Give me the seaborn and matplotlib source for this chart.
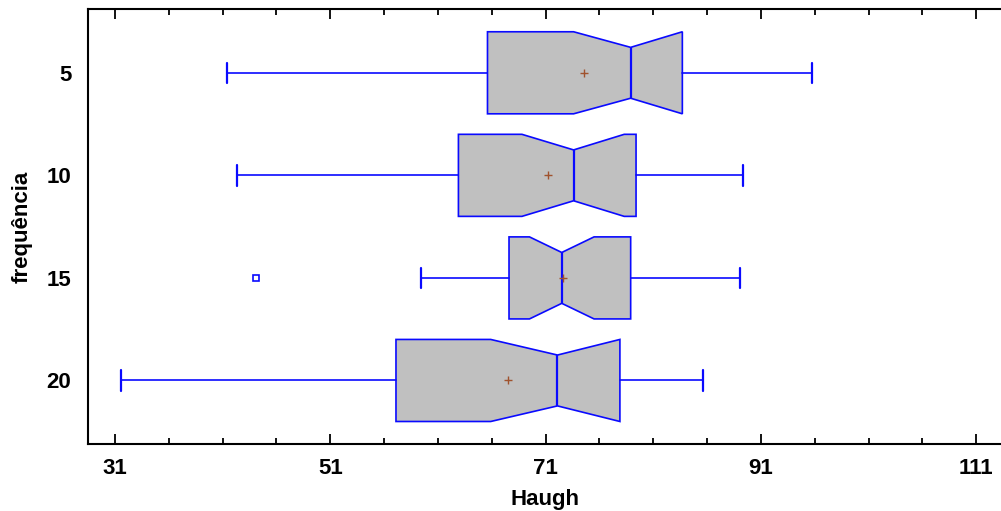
import numpy as np
import seaborn as sns
import matplotlib
matplotlib.use("Agg")
import matplotlib.pyplot as plt
from matplotlib.ticker import MultipleLocator

# values (Haugh units)
categorias = ["5", "10", "15", "20"]
whisk_lo = [41.4, 42.3, 59.4, 31.6]
q1 = [65.6, 62.9, 67.6, 57.1]
notch_lo = [73.6, 68.8, 69.5, 65.9]
mediana = [78.9, 73.6, 72.5, 72.1]
notch_hi = [83.7, 78.3, 75.5, 77.9]
q3 = [83.7, 79.4, 78.9, 77.9]
whisk_hi = [95.7, 89.3, 89.1, 85.6]
media = [74.6, 71.2, 72.6, 67.5]
outliers = [[], [], [44.1], []]

sns.set_theme(style="ticks")
plt.rcParams["font.family"] = ["Liberation Sans", "DejaVu Sans"]
plt.rcParams["font.weight"] = "bold"
plt.rcParams["text.color"] = "black"
plt.rcParams["axes.labelcolor"] = "black"
plt.rcParams["xtick.color"] = "black"
plt.rcParams["ytick.color"] = "black"

azul = "#0a0aff"
cinza = "#c0c0c0"
largura = 0.8
notch_frac = 0.31  # half-height of the notch waist, relative to box width

fig = plt.figure(figsize=(10.01, 5.11), dpi=100)
ax = fig.add_axes([0.088, 0.131, 0.912, 0.851])

stats = []
for i in range(len(categorias)):
    stats.append(dict(whislo=whisk_lo[i], q1=q1[i], med=mediana[i], q3=q3[i],
                      whishi=whisk_hi[i], cilo=notch_lo[i], cihi=notch_hi[i],
                      mean=media[i], fliers=outliers[i], label=categorias[i]))

pos = np.arange(len(categorias))
res = ax.bxp(stats, positions=pos, widths=largura, orientation="horizontal",
             shownotches=True, showmeans=True, patch_artist=True,
             capwidths=0.2,
             boxprops=dict(facecolor=cinza, edgecolor=azul, linewidth=1.2),
             whiskerprops=dict(color=azul, linewidth=1.2),
             capprops=dict(color=azul, linewidth=1.6),
             medianprops=dict(color=azul, linewidth=1.6),
             meanprops=dict(marker="+", markeredgecolor="#a0522d", markersize=6,
                            markeredgewidth=1.0),
             flierprops=dict(marker="s", markerfacecolor="none",
                             markeredgecolor=azul, markersize=5,
                             markeredgewidth=1.2))

# widen the notch waist (Statgraphics style) and the median segment with it
for i, (caixa, med) in enumerate(zip(res["boxes"], res["medians"])):
    path = caixa.get_path()
    v = path.vertices
    p = pos[i]
    waist = np.isclose(np.abs(v[:, 1] - p), largura * 0.25)
    v[waist, 1] = p + np.sign(v[waist, 1] - p) * largura * notch_frac
    med.set_ydata([p - largura * notch_frac, p + largura * notch_frac])

ax.set_xlim(28.5, 113.3)
ax.set_ylim(3.62, -0.62)
ax.set_yticks(pos)
ax.set_yticklabels(categorias)
ax.xaxis.set_major_locator(MultipleLocator(20, offset=11))
ax.xaxis.set_minor_locator(MultipleLocator(5, offset=1))

ax.tick_params(axis="x", which="both", direction="in", top=True, bottom=True,
               width=1.3, labelsize=16, pad=10, colors="black")
ax.tick_params(axis="x", which="major", length=7)
ax.tick_params(axis="x", which="minor", length=4)
ax.tick_params(axis="y", length=0, labelsize=16, pad=12, colors="black")
for t in ax.get_xticklabels() + ax.get_yticklabels():
    t.set_fontweight("bold")

ax.set_xlabel("Haugh", fontsize=16, fontweight="bold", labelpad=7)
ax.set_ylabel("frequência", fontsize=16, fontweight="bold", labelpad=10)

for s in ["left", "top", "bottom"]:
    ax.spines[s].set_linewidth(1.5)
    ax.spines[s].set_color("black")
ax.spines["right"].set_visible(False)
ax.grid(False)

fig.savefig("out.png", dpi=100)
